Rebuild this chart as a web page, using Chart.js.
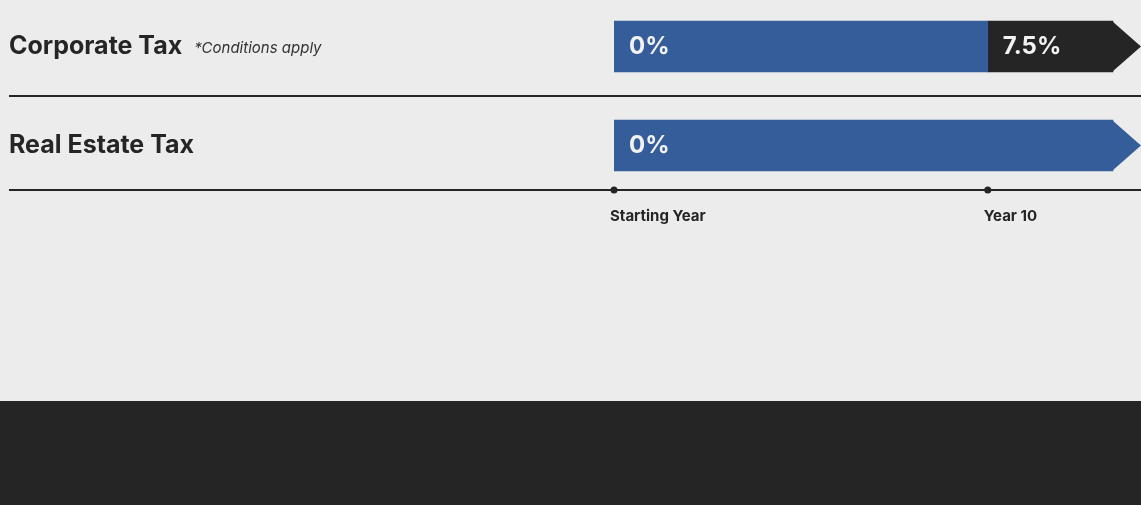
<!DOCTYPE html>
<html>
<head>
<meta charset="utf-8">
<script src="https://cdn.jsdelivr.net/npm/chart.js@4.4.0/dist/chart.umd.min.js"></script>
<style>
  html, body { margin: 0; padding: 0; background: #ececec; }
  #wrap { width: 1141px; height: 401px; overflow: hidden; }
  #chart { display: block; margin-top: -3px; }
  #footer { width: 1141px; height: 104px; background: #252525; }
</style>
</head>
<body>
<div id="wrap"><canvas id="chart" width="1141" height="404"></canvas></div>
<div id="footer"></div>
<script>
const categories = ['Corporate Tax', 'Real Estate Tax'];
const categoryNotes = ['*Conditions apply', ''];
// timeline in years: [from, to]
const firstPeriod = [[0, 10], [0, 13.35]];
const firstRates = ['0%', '0%'];
const secondPeriod = [[10, 13.35], null];
const secondRates = ['7.5%', ''];
const yearTicks = [0, 10];
const yearLabels = ['Starting Year', 'Year 10'];
const lastYear = 14.1;

const dark = '#252525';
const blue = '#345d9a';
const fam = 'Inter';

const timeline = {
    id: 'timeline',
    beforeDatasetsDraw(chart) {
        const ctx = chart.ctx;
        const x = chart.scales.x, y = chart.scales.y;
        const left = chart.options.layout.padding.left;
        const sepY = y.getPixelForValue(0.5);
        const axisY = chart.chartArea.bottom - 5;
        ctx.save();
        ctx.strokeStyle = dark;
        ctx.lineWidth = 2;
        [sepY, axisY].forEach(py => {
            ctx.beginPath();
            ctx.moveTo(left, py);
            ctx.lineTo(chart.width, py);
            ctx.stroke();
        });
        ctx.fillStyle = dark;
        yearTicks.forEach(v => {
            ctx.beginPath();
            ctx.arc(x.getPixelForValue(v), axisY, 3.5, 0, Math.PI * 2);
            ctx.fill();
        });
        // small notes next to the row titles
        categories.forEach((c, i) => {
            if (!categoryNotes[i]) return;
            ctx.font = 'bold 25px ' + fam;
            const w = ctx.measureText(c).width;
            ctx.font = 'italic 15px ' + fam;
            ctx.fillStyle = '#333';
            ctx.textBaseline = 'middle';
            ctx.textAlign = 'left';
            ctx.fillText(categoryNotes[i], left + w + 12, y.getPixelForValue(i) + 2);
        });
        ctx.restore();
    },
    afterDatasetsDraw(chart) {
        const ctx = chart.ctx;
        ctx.save();
        chart.data.datasets.forEach((ds, di) => {
            const meta = chart.getDatasetMeta(di);
            meta.data.forEach((bar, i) => {
                if (!ds.data[i]) return;
                const p = bar.getProps(['x', 'base', 'y', 'height'], true);
                const isLast = chart.data.datasets.every(d => !d.data[i] || d.data[i][1] <= ds.data[i][1]);
                if (isLast) {
                    ctx.fillStyle = ds.backgroundColor;
                    ctx.beginPath();
                    ctx.moveTo(p.x - 1, p.y - p.height / 2);
                    ctx.lineTo(chart.chartArea.right, p.y);
                    ctx.lineTo(p.x - 1, p.y + p.height / 2);
                    ctx.closePath();
                    ctx.fill();
                }
                const label = ds.rates[i];
                if (label) {
                    ctx.fillStyle = '#f2f2f2';
                    ctx.font = 'bold 24px ' + fam;
                    ctx.textBaseline = 'middle';
                    ctx.textAlign = 'left';
                    ctx.fillText(label, Math.min(p.base, p.x) + 15, p.y);
                }
            });
        });
        ctx.restore();
    }
};

new Chart(document.getElementById('chart'), {
    type: 'bar',
    data: {
        labels: categories,
        datasets: [
            { data: firstPeriod, rates: firstRates, backgroundColor: blue, grouped: false, barThickness: 51 },
            { data: secondPeriod, rates: secondRates, backgroundColor: dark, grouped: false, barThickness: 51 }
        ]
    },
    options: {
        indexAxis: 'y',
        responsive: false,
        animation: false,
        layout: { padding: { left: 9, top: 0, right: 0, bottom: 0 } },
        plugins: {
            legend: { display: false },
            tooltip: { enabled: false }
        },
        scales: {
            x: {
                type: 'linear',
                min: 0,
                max: lastYear,
                grid: { display: false, drawTicks: false },
                border: { display: false },
                afterBuildTicks: s => { s.ticks = yearTicks.map(v => ({ value: v })); },
                afterFit: s => { s.height = 206; s.paddingLeft = 0; s.paddingRight = 0; },
                ticks: {
                    autoSkip: false,
                    maxRotation: 0,
                    align: 'start',
                    labelOffset: -4,
                    padding: 12,
                    color: dark,
                    font: { family: fam, weight: 'bold', size: 15 },
                    callback: (v, i) => yearLabels[i]
                }
            },
            y: {
                grid: { display: false, drawTicks: false },
                border: { display: false },
                afterFit: s => { s.width = 605; s.paddingTop = 0; s.paddingBottom = 0; },
                ticks: {
                    crossAlign: 'far',
                    color: dark,
                    font: { family: fam, weight: 'bold', size: 25 }
                }
            }
        }
    },
    plugins: [timeline]
});
</script>
</body>
</html>
